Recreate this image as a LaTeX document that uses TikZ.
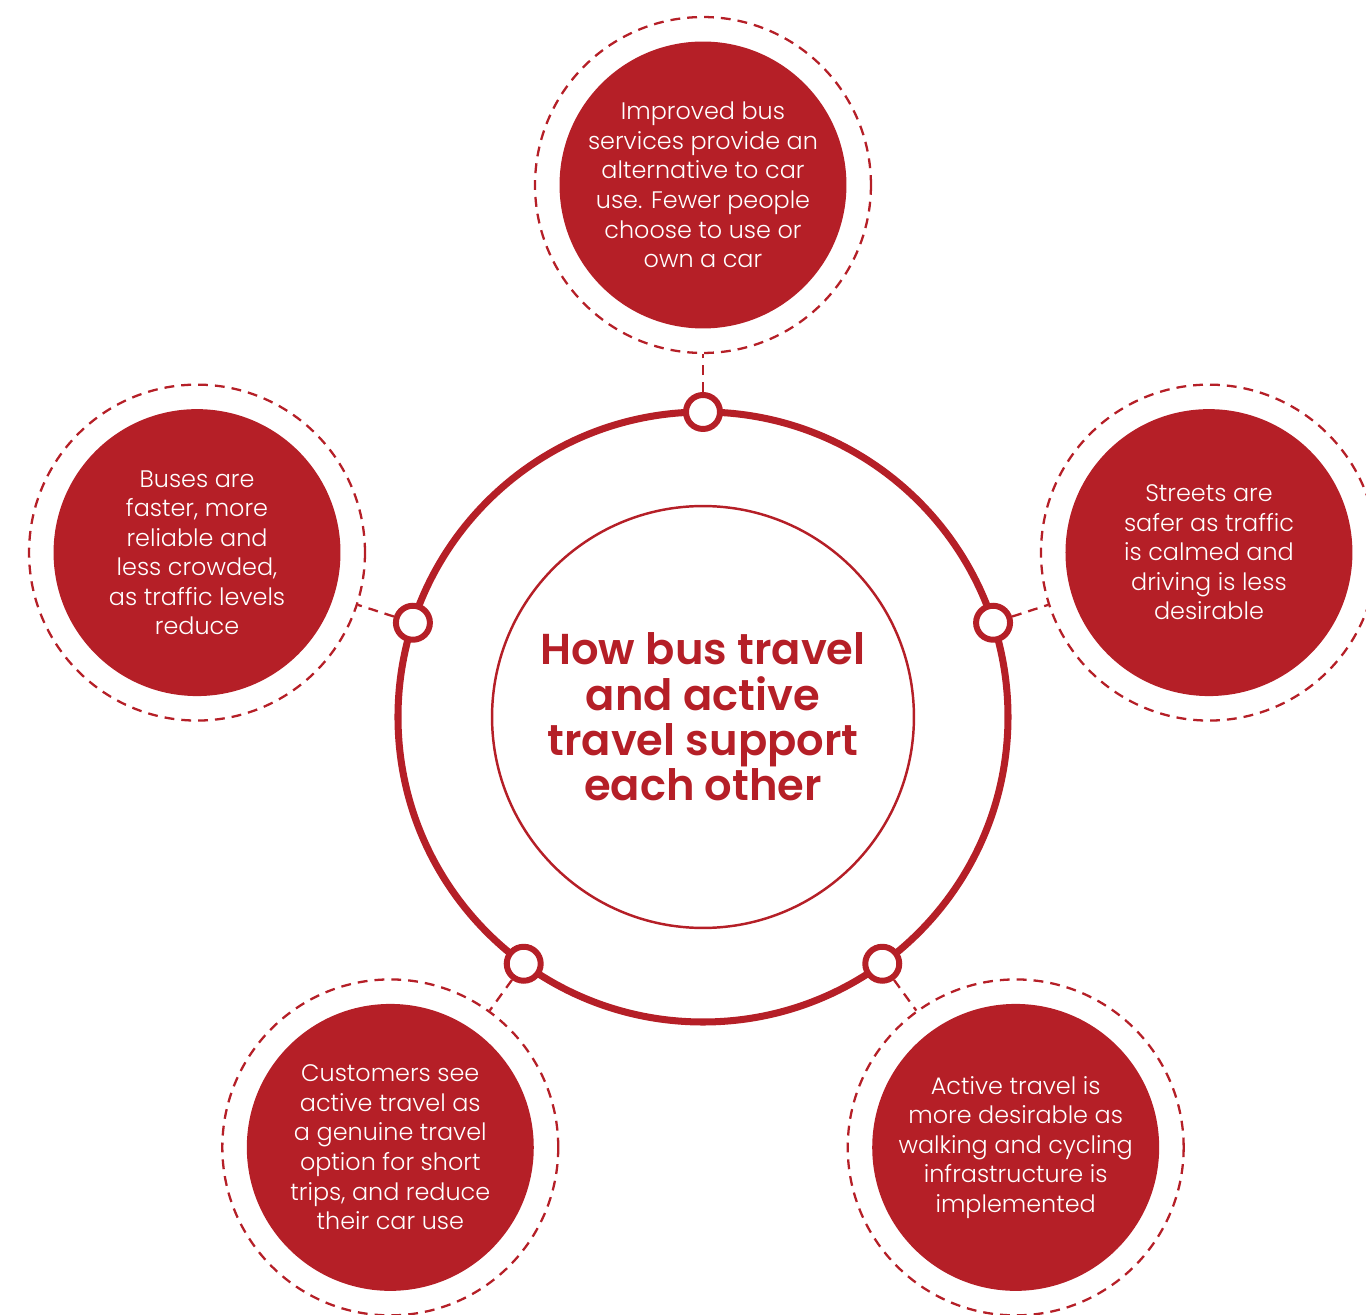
\documentclass[tikz,border=0pt]{standalone}
\usepackage{fontspec}
\setmainfont{Poppins}[UprightFont=* Light, BoldFont=* SemiBold]

\definecolor{busred}{RGB}{181,31,39}

\tikzset{
  stage/.style={circle, fill=busred, text=white, minimum size=5.74cm,
    align=center, inner sep=0pt, font=\fontsize{13.6}{16.8}\selectfont},
  halo/.style={circle, draw=busred, line width=1.3pt,
    dash pattern=on 5.6pt off 4pt, minimum size=6.72cm},
  dot/.style={circle, draw=busred, fill=white, line width=3.4pt,
    minimum size=0.68cm, inner sep=0pt},
  link/.style={draw=busred, line width=1.3pt, dash pattern=on 5.6pt off 4pt}
}

\begin{document}
\begin{tikzpicture}[x=0.02cm, y=0.02cm]
  \useasboundingbox (-703,-598) rectangle (663,717);

  % rings in the middle
  \draw[busred, line width=4pt] (0,0) circle (305); % outer ring
  \node[circle, draw=busred, line width=1.4pt, minimum size=8.44cm,
        text=busred, align=center,
        font=\bfseries\fontsize{24.6}{25.8}\selectfont] (core) at(0,0)
        {How bus travel\\and active\\travel support\\each other};

  % outer stages
  \node[stage] (bus) at(90:532) {Improved bus\\services provide an\\alternative to car\\use. Fewer people\\choose to use or\\own a car};
  \node[stage] (streets) at(18:532) {Streets are\\safer as traffic\\is calmed and\\driving is less\\desirable};
  \node[stage] (walking) at(-54:532) {Active travel is\\more desirable as\\walking and cycling\\infrastructure is\\implemented};
  \node[stage] (customers) at(234:532) {Customers see\\active travel as\\a genuine travel\\option for short\\trips, and reduce\\their car use};
  \node[stage] (buses) at(162:532) {Buses are\\faster, more\\reliable and\\less crowded,\\as traffic levels\\reduce};

  \node[halo] (Hbus) at(bus) {};
  \node[halo] (Hstreets) at(streets) {};
  \node[halo] (Hwalking) at(walking) {};
  \node[halo] (Hcustomers) at(customers) {};
  \node[halo] (Hbuses) at(buses) {};

  % dots on the ring
  \node[dot] (Dbus) at(90:305) {};
  \node[dot] (Dstreets) at(18:305) {};
  \node[dot] (Dwalking) at(-54:305) {};
  \node[dot] (Dcustomers) at(234:305) {};
  \node[dot] (Dbuses) at(162:305) {};

  \draw[link] (Dbus) -- (Hbus);
  \draw[link] (Dstreets) -- (Hstreets);
  \draw[link] (Dwalking) -- (Hwalking);
  \draw[link] (Dcustomers) -- (Hcustomers);
  \draw[link] (Dbuses) -- (Hbuses);
\end{tikzpicture}
\end{document}
